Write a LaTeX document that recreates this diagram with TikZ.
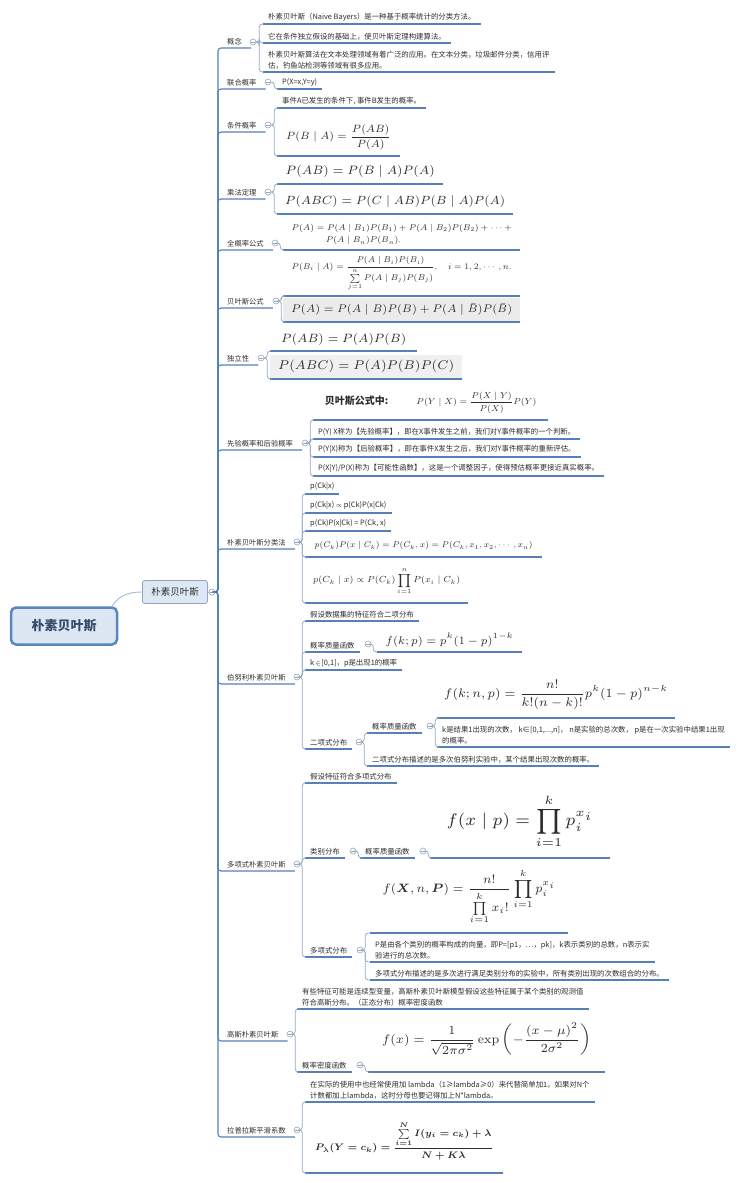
\documentclass[tikz,border=0pt]{standalone}
\usepackage{amsmath}
\usepackage{amssymb}
\usepackage{bm}
\usepackage{graphicx}
\usepackage[no-math]{fontspec}
\setmainfont{Noto Sans CJK SC}
\XeTeXlinebreaklocale "zh"
\usetikzlibrary{positioning}

\definecolor{lineblue}{RGB}{86,128,182}
\definecolor{brk}{RGB}{150,170,198}
\definecolor{togc}{RGB}{150,165,185}
\definecolor{rootfill}{RGB}{221,231,243}
\definecolor{rootline}{RGB}{88,134,190}
\definecolor{roottext}{RGB}{55,75,105}
\definecolor{mainfill}{RGB}{222,232,244}
\definecolor{mainline}{RGB}{140,165,200}
\definecolor{linkc}{RGB}{170,185,205}
\definecolor{txt}{RGB}{45,45,45}

\newcommand\fml[2]{\resizebox{#1pt}{!}{$\displaystyle #2$}}

\begin{document}
\begin{tikzpicture}[x=1pt,y=-1pt,
    rootnode/.style={draw=rootline, line width=2.5pt, fill=rootfill, rounded corners=5pt,
        minimum width=106pt, minimum height=37pt, font=\fontsize{13}{15}\selectfont\bfseries, text=roottext},
    mainnode/.style={draw=mainline, line width=0.8pt, fill=mainfill, rounded corners=2.5pt,
        minimum width=65pt, minimum height=23pt, font=\fontsize{9.5}{11}\selectfont, text=txt},
    topic/.style={anchor=south west, inner xsep=9pt, inner ysep=3pt, font=\fontsize{7.3}{9}\selectfont, text=txt},
    uline/.style={draw=lineblue, line width=1.1pt},
    leaf/.style={anchor=south west, inner xsep=5pt, inner ysep=3pt, align=left,
        font=\fontsize{7.4}{10.5}\selectfont, text=txt,
        append after command={(\tikzlastnode.south west) edge[uline] (\tikzlastnode.south east)}},
    fleaf/.style={leaf, align=center},
    tog/.style={circle, draw=togc, fill=white, line width=0.6pt, inner sep=0pt, minimum size=6pt,
        path picture={\draw[togc, line width=0.6pt] ([xshift=-1.7pt]path picture bounding box.center)
            -- ([xshift=1.7pt]path picture bounding box.center);}},
    trunk/.style={draw=lineblue, line width=1.1pt, rounded corners=3pt},
    branch/.style={draw=brk, line width=0.8pt, rounded corners=3pt},
    link/.style={draw=linkc, line width=0.9pt}]
    \useasboundingbox (0,0) rectangle (750,1183);

    %Center
    \node[rootnode] (root) at (64,626) {朴素贝叶斯};
    \node[mainnode] (main) at (175,592) {朴素贝叶斯};
    \node[tog] (c0) at (212,592) {};

    %Topics
    \node[topic] (l1) at (218,48) {概念};
    \node[topic] (l2) at (218,89) {联合概率};
    \node[topic] (l3) at (218,132) {条件概率};
    \node[topic] (l4) at (218,199) {乘法定理};
    \node[topic] (l5) at (218,250) {全概率公式};
    \node[topic] (l6) at (218,308) {贝叶斯公式};
    \node[topic] (l7) at (218,365) {独立性};
    \node[topic] (l8) at (218,450) {先验概率和后验概率};
    \node[topic] (l9) at (218,549) {朴素贝叶斯分类法};
    \node[topic] (l10) at (218,684) {伯努利朴素贝叶斯};
    \node[topic] (l11) at (218,871) {多项式朴素贝叶斯};
    \node[topic] (l12) at (218,1041) {高斯朴素贝叶斯};
    \node[topic] (l13) at (218,1137) {拉普拉斯平滑系数};

    \node[tog] (l1c) at (253,42) {};
    \node[tog] (l2c) at (268,82) {};
    \node[tog] (l3c) at (268,125) {};
    \node[tog] (l4c) at (268,192) {};
    \node[tog] (l5c) at (275,243) {};
    \node[tog] (l6c) at (276,301) {};
    \node[tog] (l7c) at (261,358) {};
    \node[tog] (l8c) at (305,443) {};
    \node[tog] (l9c) at (297,542) {};
    \node[tog] (l10c) at (297,677) {};
    \node[tog] (l11c) at (297,864) {};
    \node[tog] (l12c) at (290,1034) {};
    \node[tog] (l13c) at (297,1130) {};

    %概念
    \node[leaf] (k1a) at (263,24) {朴素贝叶斯（Naive Bayers）是一种基于概率统计的分类方法。};
    \node[leaf] (k1b) at (263,43) {它在条件独立假设的基础上，使贝叶斯定理构建算法。};
    \node[leaf] (k1c) at (263,72) {朴素贝叶斯算法在文本处理领域有着广泛的应用。在文本分类，垃圾邮件分类，信用评\\估，钓鱼站检测等领域有很多应用。};

    %联合概率, 条件概率, 乘法定理
    \node[leaf] (k2) at (277,89) {P(X=x,Y=y)};
    \node[leaf] (k3a) at (277,108) {事件A已发生的条件下, 事件B发生的概率。};
    \node[fleaf, minimum width=123pt, minimum height=37pt] (k3b) at (277,156)
        {\fml{105}{P(B\mid A)=\frac{P(AB)}{P(A)}}};
    \node[fleaf, minimum width=166pt, minimum height=24pt] (k4a) at (277,184)
        {\fml{149}{P(AB)=P(B\mid A)P(A)}};
    \node[fleaf, minimum width=236pt, minimum height=24pt] (k4b) at (277,214)
        {\fml{220}{P(ABC)=P(C\mid AB)P(B\mid A)P(A)}};

    %全概率公式, 贝叶斯公式, 独立性
    \node[fleaf, minimum width=237pt, minimum height=30pt] (k5) at (283,250)
        {\fml{220}{\begin{array}{@{}l@{}}P(A)=P(A\mid B_1)P(B_1)+P(A\mid B_2)P(B_2)+\cdots+\\
        \hphantom{P(A)=}\,P(A\mid B_n)P(B_n).\end{array}}};
    \node[fleaf, minimum width=237pt, minimum height=44pt] (k6a) at (283,296)
        {\fml{220}{P(B_i\mid A)=\frac{P(A\mid B_i)P(B_i)}{\sum\limits_{j=1}^{n}P(A\mid B_j)P(B_j)},\quad i=1,2,\cdots,n.}};
    \node[fleaf, fill=black!8, minimum width=237pt, minimum height=24pt] (k6b) at (283,322)
        {\fml{221}{P(A)=P(A\mid B)P(B)+P(A\mid \bar{B})P(\bar{B})}};
    \node[fleaf, minimum width=147pt, minimum height=22pt] (k7a) at (270,351)
        {\fml{125}{P(AB)=P(A)P(B)}};
    \node[fleaf, fill=black!6, minimum width=192pt, minimum height=24pt] (k7b) at (270,379)
        {\fml{176}{P(ABC)=P(A)P(B)P(C)}};

    %先验概率和后验概率
    \node[fleaf, minimum width=235pt, minimum height=34pt] (k8a) at (313,420)
        {{\fontsize{10}{12}\selectfont\bfseries 贝叶斯公式中:}\hspace{28pt}\fml{120}{P(Y\mid X)=\frac{P(X\mid Y)}{P(X)}P(Y)}};
    \node[leaf] (k8b) at (313,439) {P(Y) X称为【先验概率】，即在X事件发生之前，我们对Y事件概率的一个判断。};
    \node[leaf] (k8c) at (313,457) {P(Y|X)称为【后验概率】，即在事件X发生之后，我们对Y事件概率的重新评估。};
    \node[leaf] (k8d) at (313,476) {P(X|Y)/P(X)称为【可能性函数】，这是一个调整因子，使得预估概率更接近真实概率。};

    %朴素贝叶斯分类法
    \node[leaf] (k9a) at (305,494) {p(Ck|x)};
    \node[leaf] (k9b) at (305,513) {p(Ck|x) $\propto$ p(Ck)P(x|Ck)};
    \node[leaf] (k9c) at (305,531) {p(Ck)P(x|Ck) = P(Ck, x)};
    \node[fleaf, minimum width=237pt, minimum height=22pt] (k9d) at (305,557)
        {\fml{218}{p(C_k)P(x\mid C_k)=P(C_k,x)=P(C_k,x_1,x_2,\cdots,x_n)}};
    \node[fleaf, minimum width=163pt, minimum height=43pt] (k9e) at (305,603)
        {\fml{147}{p(C_k\mid x)\propto P(C_k)\prod_{i=1}^{n}P(x_i\mid C_k)}};

    %伯努利朴素贝叶斯
    \node[leaf] (k10a) at (305,621) {假设数据集的特征符合二项分布};
    \node[leaf] (k10b) at (305,652) {概率质量函数};
    \node[tog] (k10bc) at (368,644) {};
    \node[fleaf, minimum width=145pt, minimum height=24pt] (k10bf) at (377,652)
        {\fml{128}{f(k;p)=p^k(1-p)^{1-k}}};
    \node[leaf] (k10c) at (305,670) {k $\in$[0,1]，p是出现1的概率};
    \node[leaf] (k10d) at (305,749) {二项式分布};
    \node[tog] (k10dc) at (359,742) {};
    \node[leaf] (k10e) at (367,733) {概率质量函数};
    \node[tog] (k10ec) at (430,726) {};
    \node[fleaf, minimum width=238pt, minimum height=46pt] (k10f) at (437,718)
        {\fml{224}{f(k;n,p)=\frac{n!}{k!(n-k)!}p^k(1-p)^{n-k}}};
    \node[leaf] (k10g) at (437,747) {k是结果1出现的次数， k∈[0,1,...,n]， n是实验的总次数， p是在一次实验中结果1出现\\的概率。};
    \node[leaf] (k10h) at (367,766) {二项式分布描述的是多次伯努利实验中，某个结果出现次数的概率。};

    %多项式朴素贝叶斯
    \node[leaf] (k11a) at (305,783) {假设特征符合多项式分布};
    \node[leaf] (k11b) at (305,858) {类别分布};
    \node[tog] (k11bc) at (353,851) {};
    \node[leaf] (k11d) at (360,858) {概率质量函数};
    \node[tog] (k11dc) at (423,851) {};
    \node[fleaf, minimum width=180pt, minimum height=73pt] (k11e) at (430,858)
        {\fml{147}{f(x\mid p)=\prod_{i=1}^{k}p_i^{x_i}}};
    \node[leaf] (k11c) at (305,957) {多项式分布};
    \node[tog] (k11cc) at (360,950) {};
    \node[fleaf, minimum width=198pt, minimum height=72pt] (k11f) at (370,933)
        {\fml{173}{f(\bm{X},n,\bm{P})=\frac{n!}{\prod\limits_{i=1}^{k}x_i!}\prod_{i=1}^{k}p_i^{x_i}}};
    \node[leaf] (k11g) at (370,962) {P是由各个类别的概率构成的向量，即P=[p1，…，pk]，k表示类别的总数，n表示实\\验进行的总次数。};
    \node[leaf] (k11h) at (370,980) {多项式分布描述的是多次进行满足类别分布的实验中，所有类别出现的次数组合的分布。};

    %高斯朴素贝叶斯
    \node[leaf] (k12a) at (297,1009) {有些特征可能是连续型变量，高斯朴素贝叶斯模型假设这些特征属于某个类别的观测值\\符合高斯分布。（正态分布）概率密度函数};
    \node[leaf] (k12b) at (297,1072) {概率密度函数};
    \node[tog] (k12bc) at (360,1065) {};
    \node[fleaf, minimum width=237pt, minimum height=65pt] (k12f) at (368,1072)
        {\fml{209}{f(x)=\frac{1}{\sqrt{2\pi\sigma^2}}\exp\left(-\frac{(x-\mu)^2}{2\sigma^2}\right)}};

    %拉普拉斯平滑系数
    \node[leaf] (k13a) at (305,1102) {在实际的使用中也经常使用加 lambda（1≥lambda≥0）来代替简单加1。如果对N个\\计数都加上lambda，这时分母也要记得加上N*lambda。};
    \node[fleaf, minimum width=198pt, minimum height=65pt] (k13b) at (305,1173)
        {\resizebox{178pt}{!}{\boldmath$\displaystyle P_\lambda(Y=c_k)=\frac{\sum\limits_{i=1}^{N}I(y_i=c_k)+\lambda}{N+K\lambda}$}};

    %Lines
    \draw[link] ([xshift=-6pt]root.north east) to[out=60,in=180] (main.west);
    \draw[link] (main.east) -- (c0.west);
    \draw[trunk] (c0.east) -| (l1.south west) -- (l1.south east);
    \draw[trunk] (c0.east) -| (l2.south west) -- (l2.south east);
    \draw[trunk] (c0.east) -| (l3.south west) -- (l3.south east);
    \draw[trunk] (c0.east) -| (l4.south west) -- (l4.south east);
    \draw[trunk] (c0.east) -| (l5.south west) -- (l5.south east);
    \draw[trunk] (c0.east) -| (l6.south west) -- (l6.south east);
    \draw[trunk] (c0.east) -| (l7.south west) -- (l7.south east);
    \draw[trunk] (c0.east) -| (l8.south west) -- (l8.south east);
    \draw[trunk] (c0.east) -| (l9.south west) -- (l9.south east);
    \draw[trunk] (c0.east) -| (l10.south west) -- (l10.south east);
    \draw[trunk] (c0.east) -| (l11.south west) -- (l11.south east);
    \draw[trunk] (c0.east) -| (l12.south west) -- (l12.south east);
    \draw[trunk] (c0.east) -| (l13.south west) -- (l13.south east);

    \draw[branch] (l1c.east) -- ++(3,0) |- (k1a.south west);
    \draw[branch] (l1c.east) -- ++(3,0) |- (k1b.south west);
    \draw[branch] (l1c.east) -- ++(3,0) |- (k1c.south west);
    \draw[branch] (l2c.east) -- ++(3,0) |- (k2.south west);
    \draw[branch] (l3c.east) -- ++(3,0) |- (k3a.south west);
    \draw[branch] (l3c.east) -- ++(3,0) |- (k3b.south west);
    \draw[branch] (l4c.east) -- ++(3,0) |- (k4a.south west);
    \draw[branch] (l4c.east) -- ++(3,0) |- (k4b.south west);
    \draw[branch] (l5c.east) -- ++(2,0) |- (k5.south west);
    \draw[branch] (l6c.east) -- ++(2,0) |- (k6a.south west);
    \draw[branch] (l6c.east) -- ++(2,0) |- (k6b.south west);
    \draw[branch] (l7c.east) -- ++(3,0) |- (k7a.south west);
    \draw[branch] (l7c.east) -- ++(3,0) |- (k7b.south west);
    \draw[branch] (l8c.east) -- ++(2,0) |- (k8a.south west);
    \draw[branch] (l8c.east) -- ++(2,0) |- (k8b.south west);
    \draw[branch] (l8c.east) -- ++(2,0) |- (k8c.south west);
    \draw[branch] (l8c.east) -- ++(2,0) |- (k8d.south west);
    \draw[branch] (l9c.east) -- ++(2,0) |- (k9a.south west);
    \draw[branch] (l9c.east) -- ++(2,0) |- (k9b.south west);
    \draw[branch] (l9c.east) -- ++(2,0) |- (k9c.south west);
    \draw[branch] (l9c.east) -- ++(2,0) |- (k9d.south west);
    \draw[branch] (l9c.east) -- ++(2,0) |- (k9e.south west);
    \draw[branch] (l10c.east) -- ++(2,0) |- (k10a.south west);
    \draw[branch] (l10c.east) -- ++(2,0) |- (k10b.south west);
    \draw[branch] (l10c.east) -- ++(2,0) |- (k10c.south west);
    \draw[branch] (l10c.east) -- ++(2,0) |- (k10d.south west);
    \draw[branch] (k10bc.east) -- ++(2,0) |- (k10bf.south west);
    \draw[branch] (k10dc.east) -- ++(2,0) |- (k10e.south west);
    \draw[branch] (k10dc.east) -- ++(2,0) |- (k10h.south west);
    \draw[branch] (k10ec.east) -- ++(2,0) |- (k10f.south west);
    \draw[branch] (k10ec.east) -- ++(2,0) |- (k10g.south west);
    \draw[branch] (l11c.east) -- ++(2,0) |- (k11a.south west);
    \draw[branch] (l11c.east) -- ++(2,0) |- (k11b.south west);
    \draw[branch] (l11c.east) -- ++(2,0) |- (k11c.south west);
    \draw[branch] (k11bc.east) -- ++(2,0) |- (k11d.south west);
    \draw[branch] (k11dc.east) -- ++(2,0) |- (k11e.south west);
    \draw[branch] (k11cc.east) -- ++(2,0) |- (k11f.south west);
    \draw[branch] (k11cc.east) -- ++(2,0) |- (k11g.south west);
    \draw[branch] (k11cc.east) -- ++(2,0) |- (k11h.south west);
    \draw[branch] (l12c.east) -- ++(2,0) |- (k12a.south west);
    \draw[branch] (l12c.east) -- ++(2,0) |- (k12b.south west);
    \draw[branch] (k12bc.east) -- ++(2,0) |- (k12f.south west);
    \draw[branch] (l13c.east) -- ++(2,0) |- (k13a.south west);
    \draw[branch] (l13c.east) -- ++(2,0) |- (k13b.south west);
\end{tikzpicture}
\end{document}
